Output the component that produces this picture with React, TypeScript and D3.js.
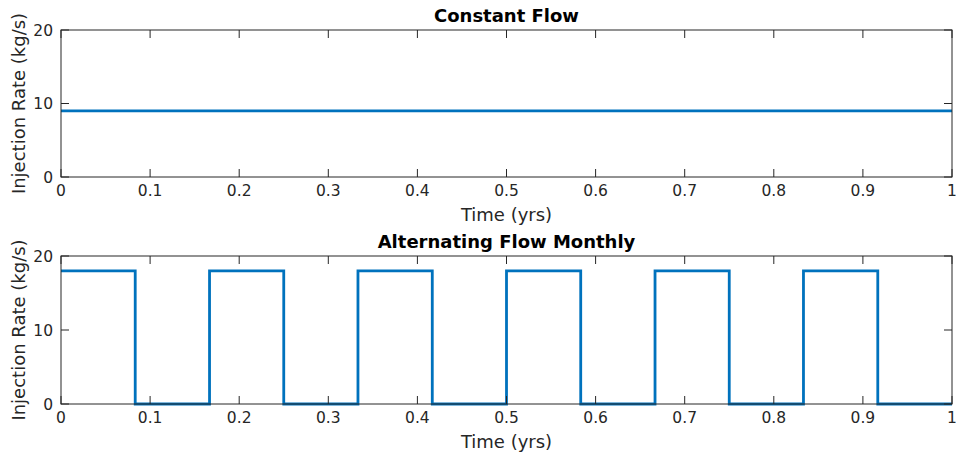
import React from "react";
import * as d3 from "d3";

const constTimes = [0, 1];
const constRates = [9, 9];
const monthTimes = [0, 0.0833, 0.1667, 0.25, 0.3333, 0.4167, 0.5, 0.5833, 0.6667, 0.75, 0.8333, 0.9167, 1.0];
const monthRates = [18, 0, 18, 0, 18, 0, 18, 0, 18, 0, 18, 0, 0];
const xTicks = [0, 0.1, 0.2, 0.3, 0.4, 0.5, 0.6, 0.7, 0.8, 0.9, 1];
const xTickLabels = ["0", "0.1", "0.2", "0.3", "0.4", "0.5", "0.6", "0.7", "0.8", "0.9", "1"];
const yTicks = [0, 10, 20];
const titles = ["Constant Flow", "Alternating Flow Monthly"];
const xLabel = "Time (yrs)";
const yLabel = "Injection Rate (kg/s)";

const W = 956;
const H = 457;
const FONT = "'DejaVu Sans', sans-serif";
const AX = "#262626";
const LINE = "#0072BD";

type PanelProps = { top: number; bottom: number; times: number[]; rates: number[]; title: string; step: boolean };

function Panel({ top, bottom, times, rates, title, step }: PanelProps) {
  const left = 61;
  const right = 952;
  const x = d3.scaleLinear().domain([0, 1]).range([left, right]);
  const y = d3.scaleLinear().domain([0, 20]).range([bottom, top]);
  const pts = times.map((t, i) => [t, rates[i]] as [number, number]);
  const line = d3
    .line<[number, number]>()
    .x((d) => x(d[0]))
    .y((d) => y(d[1]))
    .curve(step ? d3.curveStepAfter : d3.curveLinear);
  const tl = 8;
  return (
    <g>
      <path d={line(pts) || ""} fill="none" stroke={LINE} strokeWidth={2.8} strokeLinejoin="miter" />
      <rect x={left} y={top} width={right - left} height={bottom - top} fill="none" stroke={AX} strokeWidth={1} />
      {xTicks.map((t, i) => (
        <g key={"x" + i}>
          <line x1={x(t)} x2={x(t)} y1={bottom} y2={bottom - tl} stroke={AX} strokeWidth={1} />
          <line x1={x(t)} x2={x(t)} y1={top} y2={top + tl} stroke={AX} strokeWidth={1} />
          <text x={x(t)} y={bottom + 19} textAnchor="middle" fontSize={15.5} fill={AX} fontFamily={FONT}>
            {xTickLabels[i]}
          </text>
        </g>
      ))}
      {yTicks.map((v, i) => (
        <g key={"y" + i}>
          <line x1={left} x2={left + tl} y1={y(v)} y2={y(v)} stroke={AX} strokeWidth={1} />
          <line x1={right} x2={right - tl} y1={y(v)} y2={y(v)} stroke={AX} strokeWidth={1} />
          <text x={left - 8} y={y(v) + 5.5} textAnchor="end" fontSize={15.5} fill={AX} fontFamily={FONT}>
            {v}
          </text>
        </g>
      ))}
      <text x={(left + right) / 2} y={bottom + 44} textAnchor="middle" fontSize={18} fill={AX} fontFamily={FONT}>
        {xLabel}
      </text>
      <text
        transform={`translate(${25},${(top + bottom) / 2}) rotate(-90)`}
        textAnchor="middle"
        fontSize={18}
        fill={AX}
        fontFamily={FONT}
      >
        {yLabel}
      </text>
      <text x={(left + right) / 2} y={top - 8} textAnchor="middle" fontSize={18} fontWeight="bold" fill="#000" fontFamily={FONT}>
        {title}
      </text>
    </g>
  );
}

export default function App() {
  return (
    <svg width={W} height={H} style={{ position: "absolute", left: 0, top: 0, background: "#fff" }}>
      <rect width={W} height={H} fill="#fff" />
      <Panel top={30} bottom={177} times={constTimes} rates={constRates} title={titles[0]} step={false} />
      <Panel top={256} bottom={404} times={monthTimes} rates={monthRates} title={titles[1]} step={true} />
    </svg>
  );
}
